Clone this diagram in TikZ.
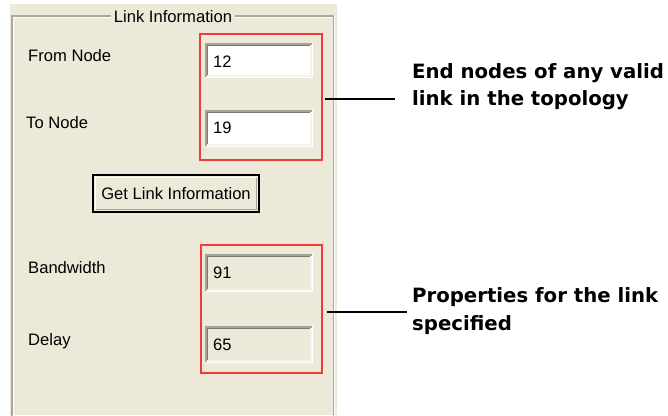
\documentclass[tikz,border=0pt]{standalone}
\usepackage{fontspec}
\setmainfont{Liberation Sans}
\newfontfamily\notefont{DejaVu Sans}
\definecolor{xpbg}{HTML}{ECE9D8}
\definecolor{etchgray}{HTML}{ACA899}
\definecolor{fielddark}{HTML}{7A7A74}
\definecolor{fieldmid}{HTML}{A5A29A}
\definecolor{fieldlight}{HTML}{F4F3EE}
\definecolor{btnshadow}{HTML}{A8A596}
\definecolor{markred}{HTML}{F23A3A}
\newcommand{\guifont}{\fontsize{16.6}{20}\selectfont}
\newcommand{\notesize}{\notefont\bfseries\fontsize{19.7}{24}\selectfont}
% name, x1, y1, x2, y2, fill
\newcommand{\sunkenfield}[6]{%
  \node[fieldbox, fill=#6, minimum width={#4-#2}, minimum height={#5-#3}] (#1) at (#2,#3) {};
  \draw[line width=1.5pt, fieldmid] ({#2+0.75},#5) -- ({#2+0.75},{#3+0.75}) -- (#4,{#3+0.75});
  \draw[line width=1.5pt, fielddark] ({#2+2.25},{#5-1.5}) -- ({#2+2.25},{#3+2.25}) -- ({#4-1.5},{#3+2.25});
  \draw[line width=1.5pt, white] (#2,{#5-0.75}) -- ({#4-0.75},{#5-0.75}) -- ({#4-0.75},#3);
  \draw[line width=1.5pt, fieldlight] ({#2+1.5},{#5-2.25}) -- ({#4-2.25},{#5-2.25}) -- ({#4-2.25},{#3+1.5});
}
\tikzset{
  fieldbox/.style={anchor=north west, inner sep=0pt, draw=none},
  lbl/.style={anchor=base west, inner sep=0pt, font=\guifont},
  val/.style={anchor=base west, inner sep=0pt, font=\guifont},
  redbox/.style={anchor=north west, inner sep=0pt, draw=markred, line width=1.5pt},
  notetext/.style={anchor=base west, inner sep=0pt, font=\notesize},
  leader/.style={draw=black, line width=1.2pt},
  buttonbox/.style={draw=black, line width=1.5pt, fill=xpbg, inner sep=0pt, font=\guifont, minimum width=166pt, minimum height=37pt}
}
\begin{document}
\begin{tikzpicture}[x=1pt,y=-1pt]
\useasboundingbox (0,0) rectangle (668,415);
\fill[white] (0,0) rectangle (668,415);
% dialog panel
\fill[xpbg] (10,4) rectangle (337,415);
% group box (etched frame)
\draw[etchgray, line width=1.5pt] (11.75,416) -- (11.75,15.75) -- (333.25,15.75) -- (333.25,416);
\draw[white, line width=1.2pt] (13.2,416) -- (13.2,17.2) -- (331.8,17.2);
\draw[white, line width=1.2pt] (334.8,15) -- (334.8,416);
\node[fill=xpbg, inner xsep=3pt, inner ysep=2pt, anchor=base, font=\guifont] (title) at (173,22.5) {Link Information};
% labels
\node[lbl] (lfrom) at (28,61.5) {From Node};
\node[lbl] (lto) at (26,128.5) {To Node};
\node[lbl] (lbw) at (28,273) {Bandwidth};
\node[lbl] (ldelay) at (28,345) {Delay};
% fields
\sunkenfield{ffrom}{205}{43}{313}{78}{white}
\sunkenfield{fto}{205}{110}{313}{147}{white}
\sunkenfield{fbw}{205}{254}{313}{292}{xpbg}
\sunkenfield{fdelay}{205}{326}{313}{363}{xpbg}
\node[val] (vfrom) at (213,67) {12};
\node[val] (vto) at (213,133.5) {19};
\node[val] (vbw) at (213,278.5) {91};
\node[val] (vdelay) at (213,350.5) {65};
% button
\node[buttonbox] (btn) at (176,193.5) {Get Link Information};
\draw[white, line width=1.5pt] (95.5,209.5) -- (95.5,177.5) -- (256.5,177.5);
\draw[btnshadow, line width=1.5pt] (95.5,209.5) -- (256.5,209.5) -- (256.5,177.5);
% red highlight boxes
\node[redbox, minimum width=122pt, minimum height=126pt] (rb1) at (199,33) {};
\node[redbox, minimum width=121pt, minimum height=128pt] (rb2) at (200,244) {};
% notes
\node[notetext] (n1a) at (412,78) {End nodes of any valid};
\node[notetext] (n1b) at (412,105) {link in the topology};
\node[notetext] (n2a) at (412,302) {Properties for the link};
\node[notetext] (n2b) at (412,330.5) {specified};
% leader lines
\coordinate (l1a) at (325,99);
\coordinate (l1b) at (395,99);
\coordinate (l2a) at (327,312);
\coordinate (l2b) at (407,312);
\draw[leader] (l1a) -- (l1b);
\draw[leader] (l2a) -- (l2b);
\end{tikzpicture}
\end{document}
